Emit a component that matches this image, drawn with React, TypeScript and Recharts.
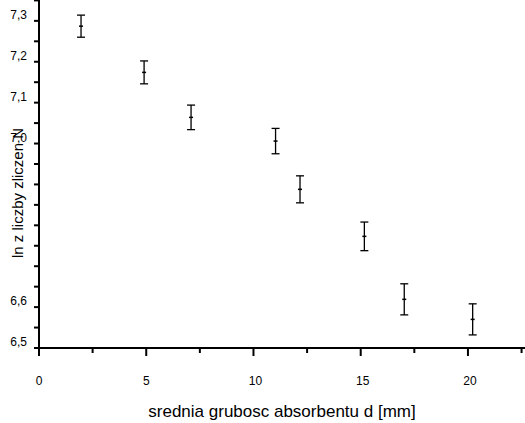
import React from 'react';
import { ScatterChart, Scatter, XAxis, YAxis, ErrorBar } from 'recharts';

const thickness = [1.96, 4.9, 7.09, 11.03, 12.17, 15.17, 17.03, 20.22];
const lnCounts = [7.287, 7.174, 7.064, 7.006, 6.888, 6.773, 6.619, 6.57];
const errors = [0.027, 0.028, 0.03, 0.031, 0.033, 0.035, 0.038, 0.038];

const xTicks = [0, 2.5, 5, 7.5, 10, 12.5, 15, 17.5, 20, 22.5];
const xLabels = [0, 5, 10, 15, 20];
const yTicks = [6.5, 6.55, 6.6, 6.65, 6.7, 6.75, 6.8, 6.85, 6.9, 6.95, 7.0, 7.05, 7.1, 7.15, 7.2, 7.25, 7.3, 7.35];
const yLabels = ['6,5', '6,6', '7,0', '7,1', '7,2', '7,3'];

const data = thickness.map((d, i) => ({ d, v: lnCounts[i], err: errors[i] }));

const FONT = '"Liberation Sans", Arial, sans-serif';

const XTick = (props: any) => {
  const { x, y, payload } = props;
  const val = payload.value;
  const major = xLabels.some((l) => Math.abs(l - val) < 1e-6);
  return (
    <g>
      <line x1={x} y1={y} x2={x} y2={y + (major ? 8 : 5)} stroke="#000" strokeWidth={2} />
      {major && (
        <text x={x + (val >= 10 ? 2 : 0)} y={y + 37} textAnchor="middle" fontSize={12} fontFamily={FONT} fill="#000">
          {String(val)}
        </text>
      )}
    </g>
  );
};

const YTick = (props: any) => {
  const { x, y, payload } = props;
  const val = payload.value;
  const lbl = val.toFixed(1).replace('.', ',');
  const isTenth = Math.abs(val * 10 - Math.round(val * 10)) < 1e-6;
  const show = isTenth && yLabels.includes(lbl);
  return (
    <g>
      <line x1={x - 5} y1={y} x2={x} y2={y} stroke="#000" strokeWidth={2} />
      {show && (
        <text x={x - 12} y={y - 2} textAnchor="end" fontSize={12} fontFamily={FONT} fill="#000">
          {lbl}
        </text>
      )}
    </g>
  );
};

const Marker = (props: any) => {
  const { cx, cy } = props;
  return <line x1={cx - 2} y1={cy} x2={cx + 2} y2={cy} stroke="#000" strokeWidth={1.5} />;
};

export default function App() {
  return (
    <div style={{ position: 'absolute', left: 0, top: 0, width: 525, height: 423, background: '#fff' }}>
      <ScatterChart width={525} height={423} margin={{ top: 0, right: 0, bottom: 0, left: 0 }}>
        <XAxis
          type="number"
          dataKey="d"
          domain={[0, 22.66]}
          ticks={xTicks}
          allowDataOverflow
          interval={0}
          tickSize={0}
          tickMargin={0}
          tick={<XTick />}
          axisLine={{ stroke: '#000', strokeWidth: 2 }}
          height={75}
          label={{ value: 'srednia grubosc absorbentu d [mm]', position: 'insideBottom', offset: 6, fontSize: 17, fontFamily: FONT, fill: '#000' }}
        />
        <YAxis
          type="number"
          dataKey="v"
          domain={[6.5, 7.351]}
          ticks={yTicks}
          allowDataOverflow
          interval={0}
          tickSize={0}
          tickMargin={0}
          tick={<YTick />}
          axisLine={{ stroke: '#000', strokeWidth: 2 }}
          width={39}
          label={{ value: 'ln z liczby zliczen N', angle: -90, position: 'insideLeft', offset: 0, dx: 18, dy: 19, fontSize: 15, fontFamily: FONT, fill: '#000', style: { textAnchor: 'middle' } }}
        />
        <Scatter data={data} shape={<Marker />} isAnimationActive={false}>
          <ErrorBar dataKey="err" direction="y" width={4} stroke="#000" strokeWidth={1.3} />
        </Scatter>
      </ScatterChart>
    </div>
  );
}
